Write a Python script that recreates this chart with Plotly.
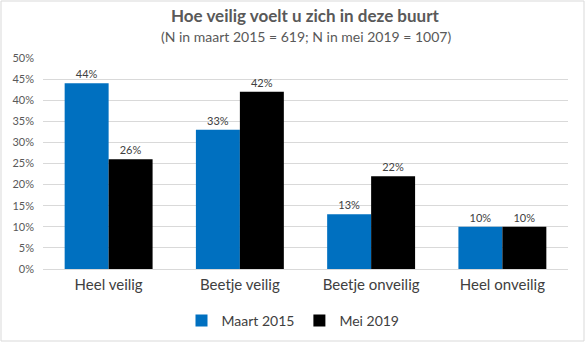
import plotly.graph_objects as go

categories = ["Heel veilig", "Beetje veilig", "Beetje onveilig", "Heel onveilig"]
maart_2015 = [44, 33, 13, 10]
mei_2019 = [26, 42, 22, 10]
series_names = ["Maart 2015", "Mei 2019"]
tick_vals = [0, 5, 10, 15, 20, 25, 30, 35, 40, 45, 50]
tick_text = [f"{v}%" for v in tick_vals]

FONT = "Lato, Open Sans, sans-serif"
W, H = 586, 344
ML, MR, MT, MB = 43, 18, 58, 75

fig = go.Figure()
fig.add_trace(go.Bar(
    x=categories, y=maart_2015, name=series_names[0],
    marker=dict(color="#0070C0", line=dict(width=0)),
    text=[f"{v}%" for v in maart_2015], textposition="outside",
    textfont=dict(size=11, color="#404040", family=FONT), cliponaxis=False,
))
fig.add_trace(go.Bar(
    x=categories, y=mei_2019, name=series_names[1],
    marker=dict(color="#000000", line=dict(width=0)),
    text=[f"{v}%" for v in mei_2019], textposition="outside",
    textfont=dict(size=11, color="#404040", family=FONT), cliponaxis=False,
))

fig.update_layout(
    width=W, height=H,
    paper_bgcolor="white", plot_bgcolor="white",
    margin=dict(l=ML, r=MR, t=MT, b=MB, autoexpand=False),
    barmode="group", bargap=0.33, bargroupgap=0,
    font=dict(family=FONT, color="#595959"),
    showlegend=True,
    legend=dict(orientation="h", x=0.5, xanchor="center", xref="container",
                y=1 - 321 / H, yanchor="middle", yref="container",
                font=dict(size=14, color="#404040", family=FONT),
                itemwidth=30, traceorder="normal", tracegroupgap=0),
    xaxis=dict(showgrid=False, showline=True, linecolor="#D9D9D9", linewidth=1,
               tickfont=dict(size=15, color="#404040", family=FONT), ticks="",
               ticklabelstandoff=2),
    yaxis=dict(range=[0, 50], tickvals=tick_vals, ticktext=tick_text,
               showgrid=True, gridcolor="#D9D9D9", gridwidth=1, zeroline=False,
               tickfont=dict(size=11, color="#595959", family=FONT), ticks="",
               ticklabelstandoff=8),
)

plot_h = H - MT - MB
plot_w = W - ML - MR
def ypix(py):
    return (H - MB - py) / plot_h

fig.add_annotation(text="<b>Hoe veilig voelt u zich in deze buurt</b>", x=0.5, xref="paper",
                   y=ypix(16), yref="paper", showarrow=False,
                   font=dict(size=17, color="#595959", family=FONT), yanchor="middle")
fig.add_annotation(text="(N in maart 2015 = 619; N in mei 2019 = 1007)", x=0.5, xref="paper",
                   y=ypix(37), yref="paper", showarrow=False,
                   font=dict(size=14, color="#595959", family=FONT), yanchor="middle")
fig.add_shape(type="rect", xref="paper", yref="paper",
              x0=-(ML - 1) / plot_w, x1=1 + (MR - 2) / plot_w, y0=ypix(341), y1=ypix(1),
              line=dict(color="#D9D9D9", width=1), fillcolor="rgba(0,0,0,0)", layer="below")

fig.write_html("out.html")
